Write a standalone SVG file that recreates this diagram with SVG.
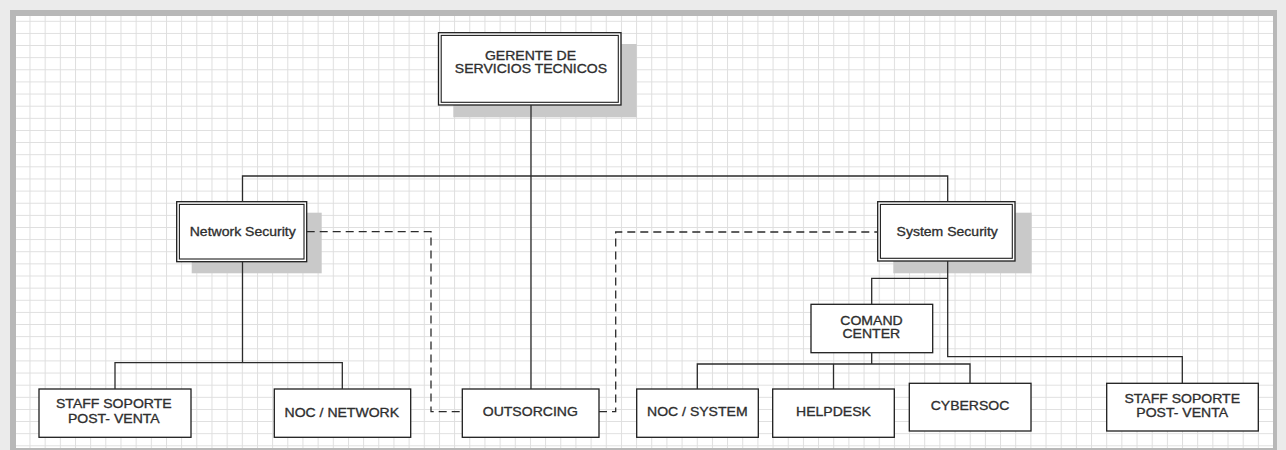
<svg xmlns="http://www.w3.org/2000/svg" width="1286" height="450" viewBox="0 0 1286 450">
<defs>
<pattern id="grid" patternUnits="userSpaceOnUse" x="29.5" y="20.8" width="15.165" height="12.13">
<path d="M0.5,0 V12.13 M0,0.5 H15.165" fill="none" stroke="#dedede" stroke-width="1"/>
</pattern>
<style>
.sh{fill:#c9c9c9;stroke:none}
.box{fill:#ffffff;stroke:#1e1e1e;stroke-width:1.3}
.inner{fill:none;stroke:#1e1e1e;stroke-width:1.1}
.lbl{font-family:"Liberation Sans",Arial,sans-serif;font-size:12px;fill:#2e2e2e;stroke:#2e2e2e;stroke-width:0.3;text-anchor:middle}
.ln{fill:none;stroke:#2b2b2b;stroke-width:1.3}
.dash{fill:none;stroke:#2b2b2b;stroke-width:1.3;stroke-dasharray:8,5}
</style>
</defs>
<rect x="0" y="0" width="1286" height="450" fill="#ebebeb"/>
<rect x="10" y="10" width="1267" height="440" fill="#b8b8b8"/>
<rect x="16" y="16" width="1257" height="432" fill="#ffffff"/>
<rect x="16" y="16" width="1257" height="432" fill="url(#grid)"/>

<g id="gerente">
<rect class="sh" x="453.3" y="44" width="183.4" height="73.3"/>
<rect class="box" x="438.5" y="32.7" width="182.5" height="72.3"/>
<rect class="inner" x="441.2" y="35.4" width="177.1" height="66.9"/>
<text class="lbl" transform="translate(530.5,60) scale(1.17,1)">GERENTE DE</text>
<text class="lbl" transform="translate(531,73.3) scale(1.17,1)">SERVICIOS TECNICOS</text>
</g>

<g id="network-security">
<rect class="sh" x="191.7" y="212.7" width="130" height="60.6"/>
<rect class="box" x="176.7" y="201.7" width="130" height="60"/>
<rect class="inner" x="179.4" y="204.4" width="124.6" height="54.6"/>
<text class="lbl" transform="translate(242.7,235.7) scale(1.17,1)">Network Security</text>
</g>

<g id="system-security">
<rect class="sh" x="893.3" y="212.7" width="138.4" height="60.6"/>
<rect class="box" x="877.7" y="201.7" width="137.3" height="59.3"/>
<rect class="inner" x="880.4" y="204.4" width="131.9" height="53.9"/>
<text class="lbl" transform="translate(947.2,236) scale(1.17,1)">System Security</text>
</g>

<g id="comand-center">
<rect class="box" x="811" y="304.3" width="121.7" height="48.4"/>
<text class="lbl" transform="translate(871.5,325) scale(1.17,1)">COMAND</text>
<text class="lbl" transform="translate(871.3,338.3) scale(1.17,1)">CENTER</text>
</g>

<g id="staff-left">
<rect class="box" x="39" y="389" width="152" height="48.3"/>
<text class="lbl" transform="translate(113.8,408.3) scale(1.17,1)">STAFF SOPORTE</text>
<text class="lbl" transform="translate(113.8,423.3) scale(1.17,1)">POST- VENTA</text>
</g>

<g id="noc-network">
<rect class="box" x="274.3" y="389" width="136.4" height="48.3"/>
<text class="lbl" transform="translate(341.8,416.5) scale(1.17,1)">NOC / NETWORK</text>
</g>

<g id="outsorcing">
<rect class="box" x="462.3" y="389" width="136.7" height="48.3"/>
<text class="lbl" transform="translate(530.3,416) scale(1.17,1)">OUTSORCING</text>
</g>

<g id="noc-system">
<rect class="box" x="636.7" y="389" width="121.6" height="48.3"/>
<text class="lbl" transform="translate(697.3,416) scale(1.17,1)">NOC / SYSTEM</text>
</g>

<g id="helpdesk">
<rect class="box" x="772.7" y="389" width="121.6" height="48.3"/>
<text class="lbl" transform="translate(833.5,416) scale(1.17,1)">HELPDESK</text>
</g>

<g id="cybersoc">
<rect class="box" x="909.3" y="383.3" width="121.7" height="47.7"/>
<text class="lbl" transform="translate(970,410) scale(1.17,1)">CYBERSOC</text>
</g>

<g id="staff-right">
<rect class="box" x="1106.7" y="383.3" width="151.6" height="47.7"/>
<text class="lbl" transform="translate(1182.2,403.3) scale(1.17,1)">STAFF SOPORTE</text>
<text class="lbl" transform="translate(1182.2,416.7) scale(1.17,1)">POST- VENTA</text>
</g>

<g id="connectors">
<path class="ln" d="M531,105 V389"/>
<path class="ln" d="M242.5,201.7 V176 H947.7 V201.7"/>
<path class="ln" d="M242.5,261.7 V362.7 M115,389 V362.7 H342.3 V389"/>
<path class="ln" d="M947.7,261 V356.7 H1182.3 V383.3"/>
<path class="ln" d="M947.7,278.3 H871.7 V304.3"/>
<path class="ln" d="M871.7,352.7 V364 M697.3,389 V364 H970 V383.3 M833.5,364 V389"/>
<path class="dash" d="M306.7,231.7 H431 V411.7 H462.3"/>
<path class="dash" d="M599,411.7 H615.7 V232 H877.7"/>
</g>
</svg>
